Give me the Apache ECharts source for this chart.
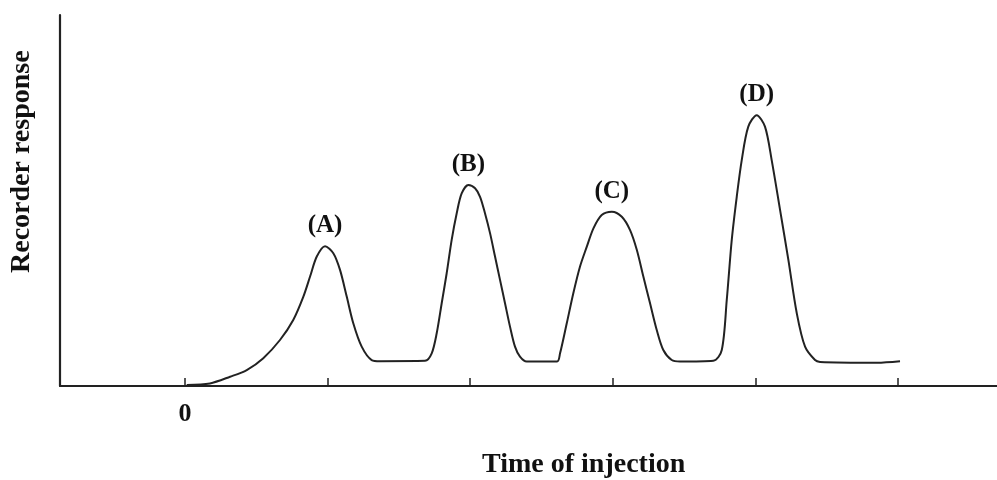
<!DOCTYPE html>
<html>
<head>
<meta charset="utf-8">
<script src="https://cdn.jsdelivr.net/npm/echarts@6/dist/echarts.min.js"></script>
<style>html,body{margin:0;padding:0;background:#fff;}#c{width:997px;height:480px;}</style>
</head>
<body>
<div id="c"></div>
<script>
// Time axis (tick interval = 1 unit, injection at 0)
var timeX = [0.012,0.175,0.316,0.433,0.549,0.666,0.759,0.830,0.877,0.924,0.982,1.040,1.087,1.134,1.180,1.239,1.309,1.367,
  1.683,1.730,1.765,1.800,1.835,1.870,1.905,1.940,1.987,2.034,2.069,2.104,2.139,2.174,2.209,2.244,2.279,2.314,2.349,2.396,
  2.609,2.630,2.677,2.723,2.770,2.817,2.864,2.922,2.993,3.063,3.121,3.168,3.214,3.261,3.308,3.354,3.413,3.471,
  3.705,3.764,3.799,3.834,3.869,3.904,3.950,4.009,4.067,4.114,4.173,4.231,4.290,4.348,4.418,4.453,4.853,5.014];
var response = [0.3,0.7,2.5,4.3,7.5,12.4,17.8,24.1,29.5,34.9,37.7,35.8,31.3,24.1,16.9,10.6,7.0,6.7,
  6.8,8.8,14.2,22.3,30.4,39.4,46.5,51.9,54.2,53.3,51.0,46.5,41.2,34.9,28.6,22.3,16.0,10.6,7.9,6.6,
  6.6,8.8,16.9,25.0,32.2,37.5,42.5,46.1,47.0,45.6,42.0,36.7,29.5,22.3,15.1,9.7,7.0,6.6,
  6.8,9.7,23.2,39.4,51.0,60.9,69.9,73.0,69.9,60.9,47.4,34.0,19.6,10.6,7.0,6.5,6.3,6.7];
var peakX = [0.982,1.987,2.993,4.009];
var peakY = [37.7,54.2,47.0,73.0];
var peakLabels = ['(A)','(B)','(C)','(D)'];
var tickValues = [0,1,2,3,4,5];
var tickLabels = [0];
var xTitle = 'Time of injection';
var yTitle = 'Recorder response';

var curve = timeX.map(function(x,i){return [x,response[i]];});
var peaks = peakX.map(function(x,i){return {value:[x,peakY[i]], name:peakLabels[i]};});
var serif = '"Liberation Serif","DejaVu Serif",serif';

var chart = echarts.init(document.getElementById('c'), null, {renderer:'canvas'});
chart.setOption({
  animation:false,
  backgroundColor:'#fff',
  grid:{left:60,right:0,top:15,bottom:94,containLabel:false},
  xAxis:{
    type:'value', min:-0.8766, max:5.694,
    splitLine:{show:false},
    axisLine:{show:true,onZero:false,lineStyle:{color:'#222',width:2.2}},
    axisTick:{show:true,inside:true,length:8,customValues:tickValues,lineStyle:{color:'#222',width:1.5}},
    axisLabel:{show:true,customValues:tickLabels,margin:15,color:'#111',fontFamily:serif,fontWeight:'bold',fontSize:26,
      formatter:function(v){return String(v);}}
  },
  yAxis:{
    type:'value', min:0, max:100,
    splitLine:{show:false},
    axisLine:{show:true,onZero:false,lineStyle:{color:'#222',width:2.2}},
    axisTick:{show:false},
    axisLabel:{show:false}
  },
  graphic:[
    {type:'text', left:482, top:451, style:{text:xTitle, fill:'#111', font:'bold 28px '+serif}},
    {type:'text', x:8, y:273, rotation:Math.PI/2, style:{text:yTitle, fill:'#111', font:'bold 28px '+serif}}
  ],
  series:[
    {type:'line', data:curve, smooth:0.3, symbol:'none', lineStyle:{color:'#222',width:2}, silent:true},
    {type:'scatter', data:peaks, symbolSize:0, silent:true, itemStyle:{opacity:1},
      label:{show:true, position:'top', distance:8, formatter:function(p){return p.name;},
        color:'#111', opacity:1, fontFamily:serif, fontWeight:'bold', fontSize:25}}
  ]
});
</script>
</body>
</html>
